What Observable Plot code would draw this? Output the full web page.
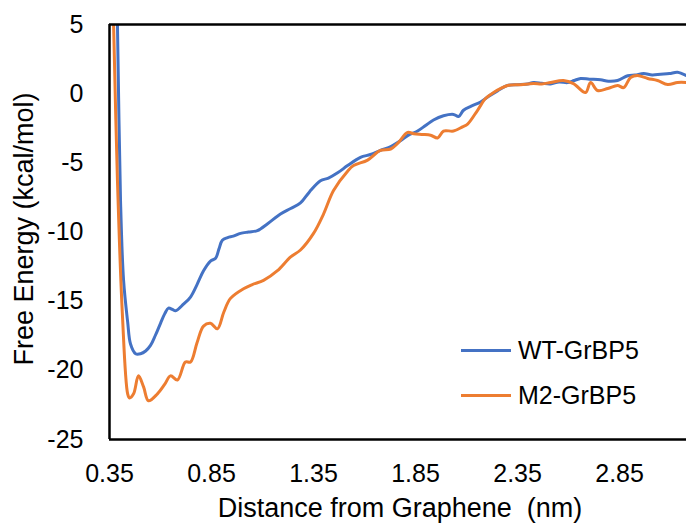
<!DOCTYPE html>
<html>
<head>
<meta charset="utf-8">
<script src="https://cdn.jsdelivr.net/npm/d3@7"></script>
<script src="https://cdn.jsdelivr.net/npm/@observablehq/plot@0.6"></script>
<style>
  body { margin: 0; background: #fff; }
  #wrap { position: relative; width: 686px; height: 525px; overflow: hidden; font-family: "Liberation Sans", Arial, sans-serif; color: #000; }
  .ttl { position: absolute; font-size: 27px; line-height: 1; white-space: pre; }
  #legend { position: absolute; left: 461px; top: 328px; font-size: 25px; line-height: 1; }
  #legend .row { display: flex; align-items: center; height: 45px; }
  #legend .sw { width: 50px; height: 3px; margin-right: 7px; }
</style>
</head>
<body>
<div id="wrap"></div>
<script>
// Distance from graphene (nm) and free energy (kcal/mol)
const wtX = [0.384, 0.389, 0.404, 0.419, 0.439, 0.453, 0.478, 0.502, 0.527, 0.551, 0.574, 0.600, 0.621, 0.639, 0.658, 0.674, 0.714, 0.747, 0.779, 0.811, 0.845, 0.870, 0.887, 0.903, 0.929, 0.957, 0.992, 1.031, 1.075, 1.125, 1.188, 1.238, 1.286, 1.330, 1.384, 1.423, 1.470, 1.517, 1.580, 1.629, 1.678, 1.731, 1.776, 1.815, 1.860, 1.899, 1.938, 1.987, 2.036, 2.061, 2.085, 2.123, 2.169, 2.207, 2.252, 2.301, 2.347, 2.399, 2.428, 2.469, 2.512, 2.553, 2.595, 2.627, 2.659, 2.702, 2.757, 2.795, 2.840, 2.890, 2.926, 2.968, 3.010, 3.051, 3.094, 3.134, 3.178];
const wtY = [8.0, 5.0, -7.7, -13.5, -16.5, -18.1, -18.8, -18.8, -18.6, -18.2, -17.5, -16.6, -15.9, -15.5, -15.6, -15.7, -15.2, -14.7, -13.8, -12.8, -12.1, -11.9, -11.2, -10.6, -10.4, -10.3, -10.1, -10.0, -9.9, -9.4, -8.7, -8.3, -7.9, -7.1, -6.3, -6.1, -5.7, -5.2, -4.6, -4.4, -4.1, -3.8, -3.4, -3.0, -2.7, -2.3, -1.9, -1.6, -1.5, -1.65, -1.2, -0.9, -0.6, -0.2, 0.2, 0.6, 0.65, 0.7, 0.8, 0.75, 0.7, 0.85, 0.8, 0.95, 1.1, 1.05, 1.0, 0.9, 0.95, 1.3, 1.35, 1.45, 1.35, 1.4, 1.45, 1.55, 1.3];

const m2X = [0.364, 0.370, 0.389, 0.413, 0.439, 0.448, 0.468, 0.492, 0.517, 0.541, 0.585, 0.621, 0.649, 0.683, 0.722, 0.747, 0.779, 0.811, 0.845, 0.879, 0.910, 0.943, 1.007, 1.050, 1.105, 1.173, 1.238, 1.286, 1.350, 1.399, 1.448, 1.517, 1.546, 1.615, 1.678, 1.728, 1.762, 1.811, 1.841, 1.881, 1.924, 1.958, 1.987, 2.036, 2.080, 2.105, 2.154, 2.193, 2.232, 2.301, 2.366, 2.428, 2.469, 2.512, 2.575, 2.624, 2.683, 2.708, 2.742, 2.792, 2.840, 2.870, 2.904, 2.938, 2.988, 3.036, 3.086, 3.134, 3.178];
const m2Y = [8.0, 5.0, -6.3, -15.9, -21.7, -22.0, -21.7, -20.4, -21.2, -22.2, -21.7, -21.0, -20.4, -20.7, -19.4, -19.4, -18.0, -16.8, -16.6, -17.0, -15.8, -14.8, -14.1, -13.8, -13.5, -12.8, -11.8, -11.3, -10.1, -8.7, -7.0, -5.6, -5.2, -4.8, -4.1, -4.0, -3.6, -2.8, -2.9, -2.95, -3.0, -3.2, -2.7, -2.7, -2.4, -2.2, -1.2, -0.35, 0.08, 0.59, 0.65, 0.73, 0.7, 0.81, 0.95, 0.73, 0.08, 0.81, 0.23, 0.37, 0.59, 0.44, 1.17, 1.31, 1.10, 0.95, 0.66, 0.81, 0.81];

const seriesNames = ["WT-GrBP5", "M2-GrBP5"];
const seriesColors = ["#4472C4", "#ED7D31"];
const xTicks = [0.35, 0.85, 1.35, 1.85, 2.35, 2.85];
const yTicks = [5, 0, -5, -10, -15, -20, -25];
const xDomain = [0.35, 3.178];
const yDomain = [-25, 5];

const wt = wtX.map((x, i) => ({x, y: wtY[i]}));
const m2 = m2X.map((x, i) => ({x, y: m2Y[i]}));

const chart = Plot.plot({
  width: 686,
  height: 525,
  marginTop: 24,
  marginBottom: 86,
  marginLeft: 109,
  marginRight: 0,
  style: { fontFamily: "'Liberation Sans', Arial, sans-serif", fontSize: "25px", color: "#000", background: "transparent" },
  x: { domain: xDomain, ticks: xTicks, tickSize: 0, tickPadding: 25, tickFormat: d => d.toFixed(2), label: null },
  y: { domain: yDomain, ticks: yTicks, tickSize: 0, tickPadding: 26, tickFormat: d => String(d), label: null },
  marks: [
    Plot.line(wt, { x: "x", y: "y", stroke: seriesColors[0], strokeWidth: 3, clip: true, strokeLinejoin: "round", curve: "catmull-rom" }),
    Plot.line(m2, { x: "x", y: "y", stroke: seriesColors[1], strokeWidth: 3, clip: true, strokeLinejoin: "round", curve: "catmull-rom" }),
    Plot.ruleY([yDomain[0], yDomain[1]], { stroke: "#000", strokeWidth: 2.5 }),
    Plot.ruleX([xDomain[0]], { stroke: "#000", strokeWidth: 2.5 })
  ]
});

const wrap = document.getElementById("wrap");
wrap.appendChild(chart);

const xt = document.createElement("div");
xt.className = "ttl";
xt.textContent = "Distance from Graphene  (nm)";
xt.style.left = "400px"; xt.style.top = "495px"; xt.style.transform = "translateX(-50%)";
wrap.appendChild(xt);

const yt = document.createElement("div");
yt.className = "ttl";
yt.textContent = "Free Energy (kcal/mol)";
yt.style.left = "24px"; yt.style.top = "229px";
yt.style.transform = "translate(-50%, -50%) rotate(-90deg)";
wrap.appendChild(yt);

const lg = document.createElement("div");
lg.id = "legend";
seriesNames.forEach((n, i) => {
  const r = document.createElement("div");
  r.className = "row";
  const s = document.createElement("div");
  s.className = "sw"; s.style.background = seriesColors[i];
  const t = document.createElement("span");
  t.textContent = n;
  r.appendChild(s); r.appendChild(t);
  lg.appendChild(r);
});
wrap.appendChild(lg);
</script>
</body>
</html>
